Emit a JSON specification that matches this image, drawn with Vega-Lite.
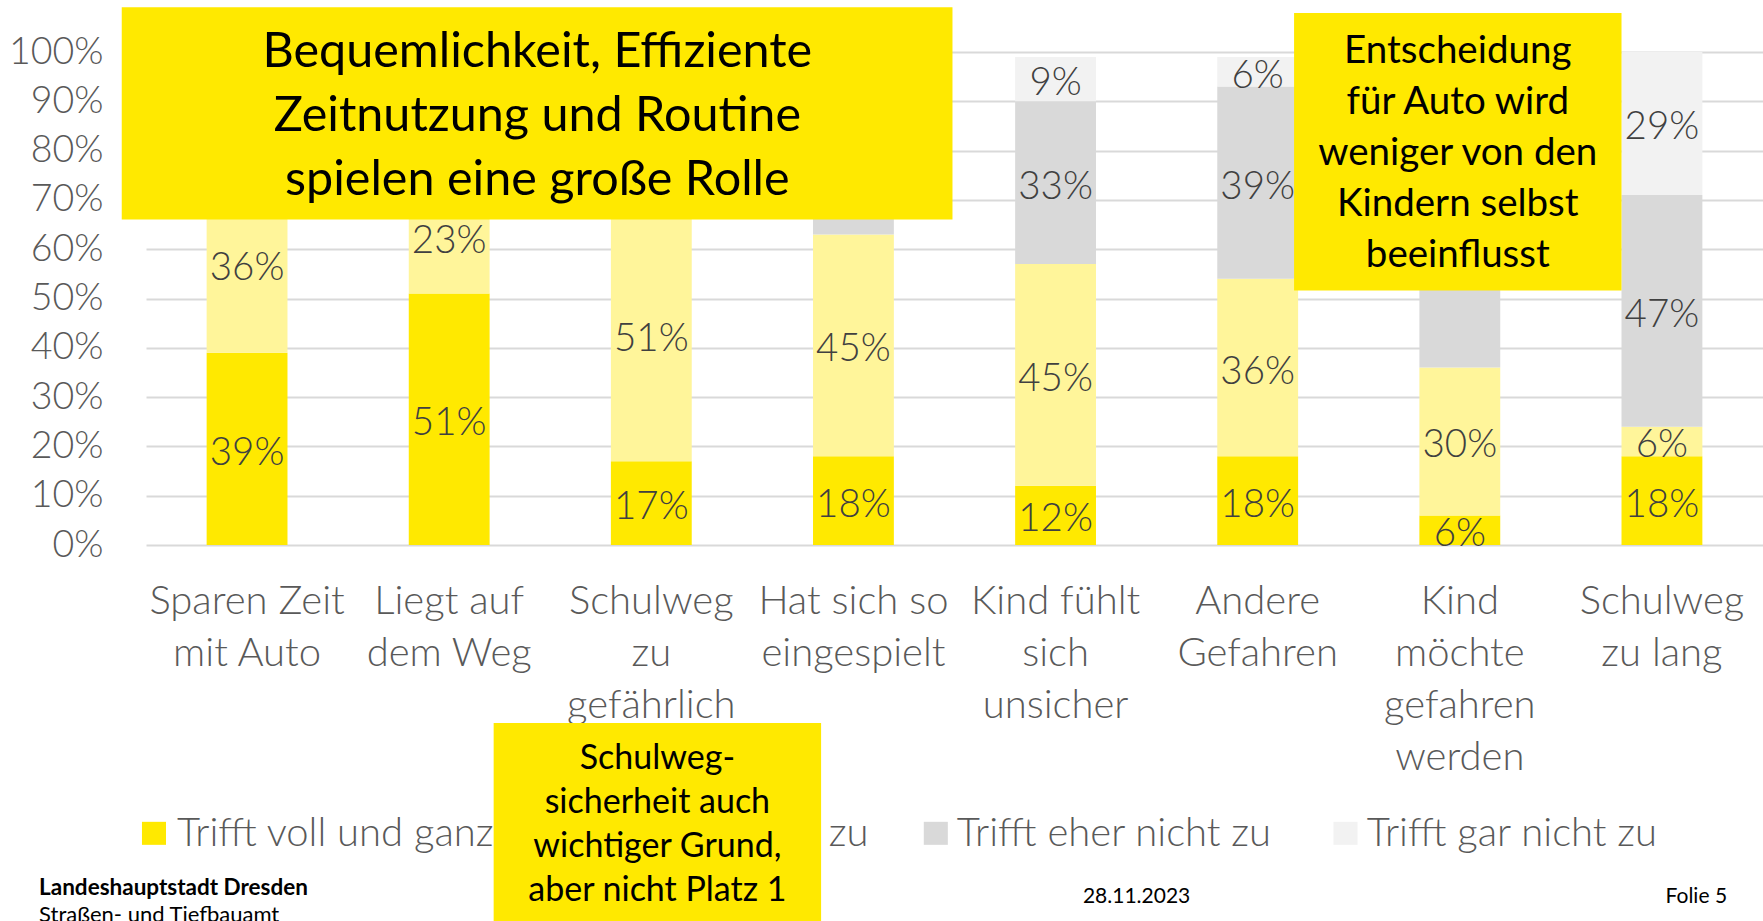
{
  "$schema": "https://vega.github.io/schema/vega-lite/v6.json",
  "autosize": {"type": "none"},
  "width": 1617,
  "height": 493,
  "padding": {"left": 146, "top": 52, "right": 0, "bottom": 376},
  "background": "white",
  "config": {"view": {"stroke": null}, "font": "Lato"},
  "datasets": {
    "bars": [
      {"cat": "Sparen Zeit|mit Auto", "resp": "Trifft voll und ganz zu", "o": 1, "v": 0.39},
      {"cat": "Sparen Zeit|mit Auto", "resp": "Trifft eher zu", "o": 2, "v": 0.36},
      {"cat": "Sparen Zeit|mit Auto", "resp": "Trifft eher nicht zu", "o": 3, "v": 0.17},
      {"cat": "Sparen Zeit|mit Auto", "resp": "Trifft gar nicht zu", "o": 4, "v": 0.08},
      {"cat": "Liegt auf|dem Weg", "resp": "Trifft voll und ganz zu", "o": 1, "v": 0.51},
      {"cat": "Liegt auf|dem Weg", "resp": "Trifft eher zu", "o": 2, "v": 0.23},
      {"cat": "Liegt auf|dem Weg", "resp": "Trifft eher nicht zu", "o": 3, "v": 0.18},
      {"cat": "Liegt auf|dem Weg", "resp": "Trifft gar nicht zu", "o": 4, "v": 0.08},
      {"cat": "Schulweg|zu|gefährlich", "resp": "Trifft voll und ganz zu", "o": 1, "v": 0.17},
      {"cat": "Schulweg|zu|gefährlich", "resp": "Trifft eher zu", "o": 2, "v": 0.51},
      {"cat": "Schulweg|zu|gefährlich", "resp": "Trifft eher nicht zu", "o": 3, "v": 0.24},
      {"cat": "Schulweg|zu|gefährlich", "resp": "Trifft gar nicht zu", "o": 4, "v": 0.08},
      {"cat": "Hat sich so|eingespielt", "resp": "Trifft voll und ganz zu", "o": 1, "v": 0.18},
      {"cat": "Hat sich so|eingespielt", "resp": "Trifft eher zu", "o": 2, "v": 0.45},
      {"cat": "Hat sich so|eingespielt", "resp": "Trifft eher nicht zu", "o": 3, "v": 0.27},
      {"cat": "Hat sich so|eingespielt", "resp": "Trifft gar nicht zu", "o": 4, "v": 0.10},
      {"cat": "Kind fühlt|sich|unsicher", "resp": "Trifft voll und ganz zu", "o": 1, "v": 0.12},
      {"cat": "Kind fühlt|sich|unsicher", "resp": "Trifft eher zu", "o": 2, "v": 0.45},
      {"cat": "Kind fühlt|sich|unsicher", "resp": "Trifft eher nicht zu", "o": 3, "v": 0.33},
      {"cat": "Kind fühlt|sich|unsicher", "resp": "Trifft gar nicht zu", "o": 4, "v": 0.09},
      {"cat": "Andere|Gefahren", "resp": "Trifft voll und ganz zu", "o": 1, "v": 0.18},
      {"cat": "Andere|Gefahren", "resp": "Trifft eher zu", "o": 2, "v": 0.36},
      {"cat": "Andere|Gefahren", "resp": "Trifft eher nicht zu", "o": 3, "v": 0.39},
      {"cat": "Andere|Gefahren", "resp": "Trifft gar nicht zu", "o": 4, "v": 0.06},
      {"cat": "Kind|möchte|gefahren|werden", "resp": "Trifft voll und ganz zu", "o": 1, "v": 0.06},
      {"cat": "Kind|möchte|gefahren|werden", "resp": "Trifft eher zu", "o": 2, "v": 0.30},
      {"cat": "Kind|möchte|gefahren|werden", "resp": "Trifft eher nicht zu", "o": 3, "v": 0.38},
      {"cat": "Kind|möchte|gefahren|werden", "resp": "Trifft gar nicht zu", "o": 4, "v": 0.26},
      {"cat": "Schulweg|zu lang", "resp": "Trifft voll und ganz zu", "o": 1, "v": 0.18},
      {"cat": "Schulweg|zu lang", "resp": "Trifft eher zu", "o": 2, "v": 0.06},
      {"cat": "Schulweg|zu lang", "resp": "Trifft eher nicht zu", "o": 3, "v": 0.47},
      {"cat": "Schulweg|zu lang", "resp": "Trifft gar nicht zu", "o": 4, "v": 0.29}
    ],
    "boxes": [
      {"x1": -0.12, "x2": 3.99, "y1": 1.091, "y2": 0.66},
      {"x1": 5.68, "x2": 7.30, "y1": 1.079, "y2": 0.516}
    ],
    "legendKeys": [
      {"resp": "Trifft voll und ganz zu", "x1": -0.02, "x2": 0.099, "tx": 0.153},
      {"resp": "Trifft eher zu", "x1": 2.32, "x2": 2.44, "tx": 2.494},
      {"resp": "Trifft eher nicht zu", "x1": 3.848, "x2": 3.967, "tx": 4.011},
      {"resp": "Trifft gar nicht zu", "x1": 5.875, "x2": 5.994, "tx": 6.039}
    ]
  },
  "layer": [
    {
      "data": {"name": "bars"},
      "mark": {"type": "bar"},
      "encoding": {
        "x": {"field": "cat", "type": "nominal", "sort": null,
              "scale": {"paddingInner": 0.6, "paddingOuter": 0.3},
              "axis": {"title": null, "labelAngle": 0, "ticks": false, "domain": false,
                       "labelExpr": "split(datum.label, '|')", "labelFont": "Lato", "labelFontWeight": 300,
                       "labelFontSize": 40, "labelColor": "#595959", "labelLineHeight": 52,
                       "labelPadding": 36, "labelLimit": 0, "labelOverlap": false}},
        "y": {"field": "v", "type": "quantitative", "stack": "zero",
              "scale": {"domain": [0, 1], "nice": false},
              "axis": {"title": null, "format": ".0%", "values": [0, 0.1, 0.2, 0.3, 0.4, 0.5, 0.6, 0.7, 0.8, 0.9, 1],
                       "ticks": false, "domain": false, "grid": true, "gridColor": "#D9D9D9", "gridWidth": 2,
                       "labelFont": "Lato", "labelFontWeight": 300, "labelFontSize": 37.5, "labelColor": "#595959",
                       "labelPadding": 43}},
        "color": {"field": "resp", "type": "nominal",
                  "scale": {"domain": ["Trifft voll und ganz zu", "Trifft eher zu", "Trifft eher nicht zu", "Trifft gar nicht zu"],
                            "range": ["#FFE900", "#FFF59A", "#D9D9D9", "#F2F2F2"]},
                  "legend": null},
        "order": {"field": "o", "type": "quantitative"}
      }
    },
    {
      "data": {"name": "bars"},
      "transform": [
        {"stack": "v", "groupby": ["cat"], "sort": [{"field": "o"}], "as": ["v0", "v1"]},
        {"calculate": "(datum.v0 + datum.v1) / 2", "as": "mid"}
      ],
      "mark": {"type": "text", "font": "Lato", "fontWeight": 300, "fontSize": 38.5, "color": "#404040", "baseline": "middle", "dy": 4},
      "encoding": {
        "x": {"field": "cat", "type": "nominal", "sort": null, "scale": {"paddingInner": 0.6, "paddingOuter": 0.3}, "axis": null},
        "y": {"field": "mid", "type": "quantitative", "scale": {"domain": [0, 1], "nice": false}, "axis": null},
        "text": {"field": "v", "type": "quantitative", "format": ".0%"}
      }
    },
    {
      "data": {"name": "boxes"},
      "mark": {"type": "rect", "color": "#FFE900"},
      "encoding": {
        "x": {"field": "x1", "type": "quantitative", "scale": {"domain": [0, 8], "nice": false, "zero": false}, "axis": null},
        "x2": {"field": "x2"},
        "y": {"field": "y1", "type": "quantitative", "scale": {"domain": [0, 1], "nice": false}, "axis": null},
        "y2": {"field": "y2"}
      }
    },
    {
      "data": {"values": [{"x": 1.936, "y": 0.999, "t": "Bequemlichkeit, Effiziente|Zeitnutzung und Routine|spielen eine große Rolle"}]},
      "mark": {"type": "text", "font": "Lato", "fontSize": 48.5, "color": "#000000", "baseline": "middle", "align": "center", "lineBreak": "|", "lineHeight": 64},
      "encoding": {
        "x": {"field": "x", "type": "quantitative", "scale": {"domain": [0, 8], "nice": false, "zero": false}, "axis": null},
        "y": {"field": "y", "type": "quantitative", "scale": {"domain": [0, 1], "nice": false}, "axis": null},
        "text": {"field": "t"}
      }
    },
    {
      "data": {"values": [{"x": 6.49, "y": 1.002, "t": "Entscheidung|für Auto wird|weniger von den|Kindern selbst|beeinflusst"}]},
      "mark": {"type": "text", "font": "Lato", "fontSize": 38.5, "color": "#000000", "baseline": "middle", "align": "center", "lineBreak": "|", "lineHeight": 51},
      "encoding": {
        "x": {"field": "x", "type": "quantitative", "scale": {"domain": [0, 8], "nice": false, "zero": false}, "axis": null},
        "y": {"field": "y", "type": "quantitative", "scale": {"domain": [0, 1], "nice": false}, "axis": null},
        "text": {"field": "t"}
      }
    },
    {
      "data": {"name": "legendKeys"},
      "mark": {"type": "rect"},
      "encoding": {
        "x": {"field": "x1", "type": "quantitative", "scale": {"domain": [0, 8], "nice": false, "zero": false}, "axis": null},
        "x2": {"field": "x2"},
        "y": {"datum": -0.5615, "type": "quantitative", "scale": {"domain": [0, 1], "nice": false}, "axis": null},
        "y2": {"datum": -0.6082},
        "color": {"field": "resp", "type": "nominal",
                  "scale": {"domain": ["Trifft voll und ganz zu", "Trifft eher zu", "Trifft eher nicht zu", "Trifft gar nicht zu"],
                            "range": ["#FFE900", "#FFF59A", "#D9D9D9", "#F2F2F2"]},
                  "legend": null}
      }
    },
    {
      "data": {"name": "legendKeys"},
      "mark": {"type": "text", "font": "Lato", "fontWeight": 300, "fontSize": 40, "color": "#595959", "baseline": "middle", "align": "left"},
      "encoding": {
        "x": {"field": "tx", "type": "quantitative", "scale": {"domain": [0, 8], "nice": false, "zero": false}, "axis": null},
        "y": {"datum": -0.5855, "type": "quantitative", "scale": {"domain": [0, 1], "nice": false}, "axis": null},
        "text": {"field": "resp"}
      }
    },
    {
      "data": {"values": [{"x": 1.72, "y1": -0.361, "y2": -0.78}]},
      "mark": {"type": "rect", "color": "#FFE900"},
      "encoding": {
        "x": {"field": "x", "type": "quantitative", "scale": {"domain": [0, 8], "nice": false, "zero": false}, "axis": null},
        "x2": {"datum": 3.34},
        "y": {"field": "y1", "type": "quantitative", "scale": {"domain": [0, 1], "nice": false}, "axis": null},
        "y2": {"field": "y2"}
      }
    },
    {
      "data": {"values": [{"x": 2.53, "y": -0.434, "t": "Schulweg-|sicherheit auch|wichtiger Grund,|aber nicht Platz 1"}]},
      "mark": {"type": "text", "font": "Lato", "fontSize": 34, "color": "#000000", "baseline": "middle", "align": "center", "lineBreak": "|", "lineHeight": 44},
      "encoding": {
        "x": {"field": "x", "type": "quantitative", "scale": {"domain": [0, 8], "nice": false, "zero": false}, "axis": null},
        "y": {"field": "y", "type": "quantitative", "scale": {"domain": [0, 1], "nice": false}, "axis": null},
        "text": {"field": "t"}
      }
    },
    {
      "data": {"values": [{"x": -0.529, "y": -0.709, "t": "Landeshauptstadt Dresden"}]},
      "mark": {"type": "text", "font": "Lato", "fontWeight": "bold", "fontSize": 22.5, "color": "#000000", "baseline": "alphabetic", "align": "left"},
      "encoding": {
        "x": {"field": "x", "type": "quantitative", "scale": {"domain": [0, 8], "nice": false, "zero": false}, "axis": null},
        "y": {"field": "y", "type": "quantitative", "scale": {"domain": [0, 1], "nice": false}, "axis": null},
        "text": {"field": "t"}
      }
    },
    {
      "data": {"values": [{"x": -0.529, "y": -0.764, "t": "Straßen- und Tiefbauamt"}]},
      "mark": {"type": "text", "font": "Lato", "fontSize": 22, "color": "#000000", "baseline": "alphabetic", "align": "left"},
      "encoding": {
        "x": {"field": "x", "type": "quantitative", "scale": {"domain": [0, 8], "nice": false, "zero": false}, "axis": null},
        "y": {"field": "y", "type": "quantitative", "scale": {"domain": [0, 1], "nice": false}, "axis": null},
        "text": {"field": "t"}
      }
    },
    {
      "data": {"values": [{"x": 4.901, "y": -0.727, "t": "28.11.2023"}, {"x": 7.67, "y": -0.727, "t": "Folie 5"}]},
      "mark": {"type": "text", "font": "Lato", "fontSize": 21, "color": "#000000", "baseline": "alphabetic", "align": "center"},
      "encoding": {
        "x": {"field": "x", "type": "quantitative", "scale": {"domain": [0, 8], "nice": false, "zero": false}, "axis": null},
        "y": {"field": "y", "type": "quantitative", "scale": {"domain": [0, 1], "nice": false}, "axis": null},
        "text": {"field": "t"}
      }
    }
  ],
  "resolve": {"scale": {"x": "independent", "y": "independent", "color": "shared"}, "axis": {"x": "independent", "y": "independent"}}
}
